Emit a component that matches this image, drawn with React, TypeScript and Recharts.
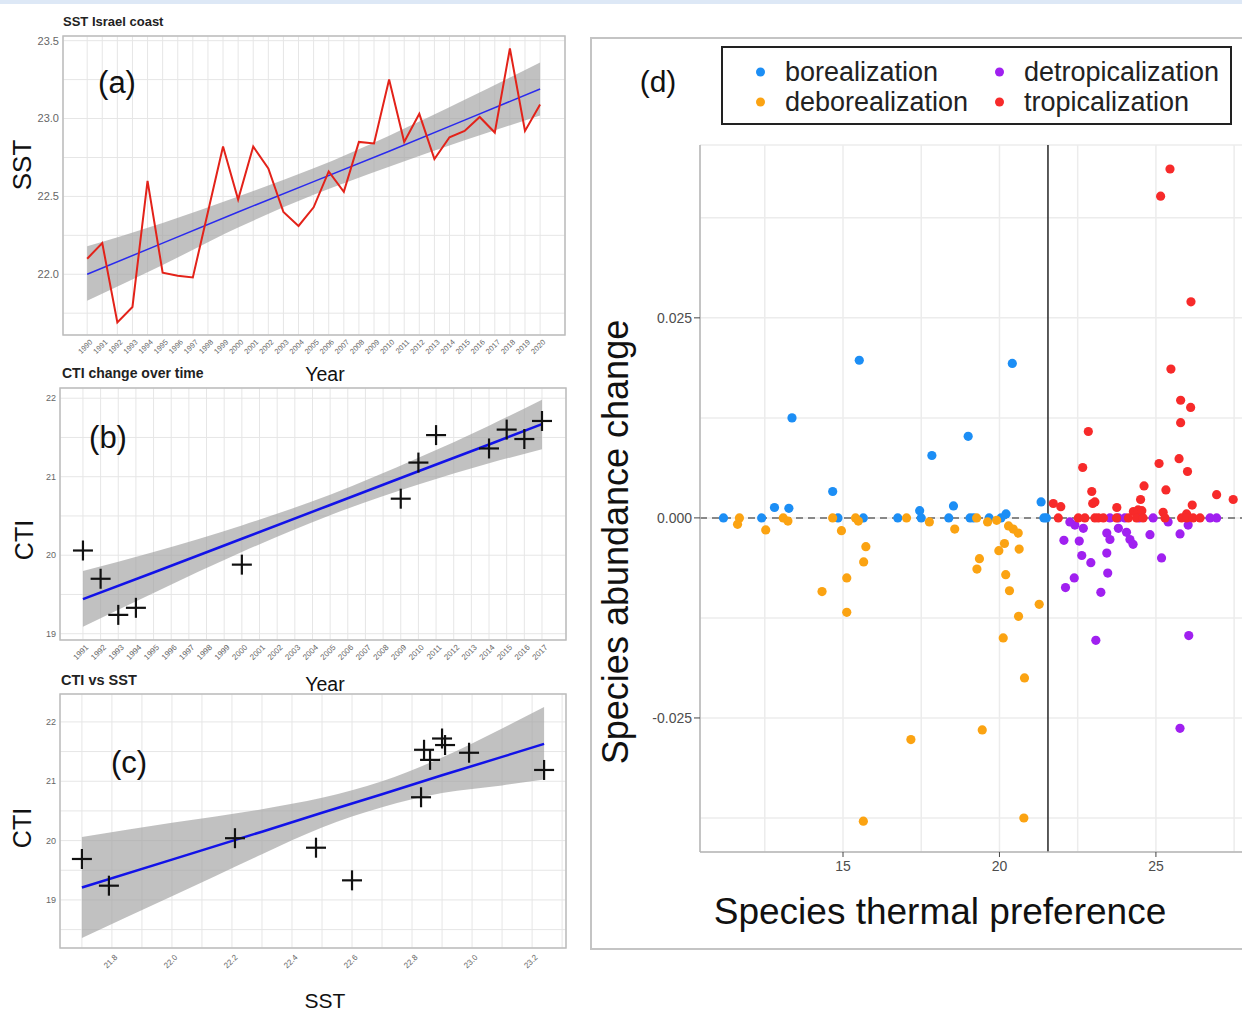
import React from 'react';
import {
  ComposedChart, Scatter, Line, Area, XAxis, YAxis, CartesianGrid,
  ReferenceLine, ReferenceArea, Legend,
} from 'recharts';

const FONT = '"Liberation Sans", Arial, Helvetica, sans-serif';

// ---- (a) SST Israel coast ----
const sstYears = [
  1990, 1991, 1992, 1993, 1994, 1995, 1996, 1997, 1998, 1999, 2000,
  2001, 2002, 2003, 2004, 2005, 2006, 2007, 2008, 2009, 2010,
  2011, 2012, 2013, 2014, 2015, 2016, 2017, 2018, 2019, 2020,
];
const sstValues = [
  22.10, 22.20, 21.69, 21.79, 22.60, 22.01, 21.99, 21.98, 22.40, 22.82, 22.48,
  22.82, 22.68, 22.40, 22.31, 22.43, 22.66, 22.53, 22.85, 22.84, 23.25,
  22.85, 23.03, 22.74, 22.88, 22.92, 23.01, 22.91, 23.45, 22.92, 23.09,
];
const sstBandX = [1990, 1995, 2000, 2005, 2010, 2015, 2020];
const sstBandLow = [21.83, 22.06, 22.30, 22.51, 22.69, 22.86, 23.02];
const sstBandHigh = [22.18, 22.33, 22.50, 22.68, 22.89, 23.12, 23.36];
const sstFit = [22.00, 22.20, 22.40, 22.595, 22.79, 22.99, 23.19];
const sstYTicks = [21.75, 22, 22.25, 22.5, 22.75, 23, 23.25, 23.5];
const sstYLabels = [22, 22.5, 23, 23.5];

// ---- (b) CTI change over time ----
const ctiYears = [1991, 1992, 1993, 1994, 2000, 2009, 2010, 2011, 2014, 2015, 2016, 2017];
const ctiValues = [20.06, 19.70, 19.24, 19.33, 19.88, 20.72, 21.18, 21.53, 21.36, 21.60, 21.48, 21.71];
const ctiBandX = [1991, 1995, 2000, 2005, 2010, 2014, 2017];
const ctiBandLow = [19.09, 19.52, 20.04, 20.51, 20.90, 21.17, 21.35];
const ctiBandHigh = [19.80, 20.04, 20.38, 20.77, 21.24, 21.65, 21.98];
const ctiFit = [19.44, 19.78, 20.21, 20.64, 21.07, 21.41, 21.67];
const ctiXTicks = [
  1991, 1992, 1993, 1994, 1995, 1996, 1997, 1998, 1999, 2000, 2001, 2002, 2003, 2004,
  2005, 2006, 2007, 2008, 2009, 2010, 2011, 2012, 2013, 2014, 2015, 2016, 2017,
];
const ctiYTicks = [19, 19.5, 20, 20.5, 21, 21.5, 22];
const ctiYLabels = [19, 20, 21, 22];

// ---- (c) CTI vs SST ----
const vsSst = [21.70, 21.79, 22.21, 22.48, 22.60, 22.83, 22.84, 22.86, 22.90, 22.91, 22.99, 23.24];
const vsCti = [19.69, 19.24, 20.04, 19.88, 19.33, 20.73, 21.53, 21.36, 21.72, 21.61, 21.48, 21.19];
const vsBandX = [21.70, 22.0, 22.3, 22.5, 22.7, 22.9, 23.1, 23.24];
const vsBandLow = [18.36, 19.06, 19.77, 20.22, 20.56, 20.80, 20.93, 21.03];
const vsBandHigh = [20.06, 20.30, 20.53, 20.72, 21.00, 21.40, 21.89, 22.25];
const vsFit = [19.21, 19.68, 20.15, 20.47, 20.78, 21.10, 21.41, 21.63];
const vsXTicks = [21.7, 21.8, 21.9, 22.0, 22.1, 22.2, 22.3, 22.4, 22.5, 22.6, 22.7, 22.8, 22.9, 23.0, 23.1, 23.2, 23.3];
const vsXLabels = [21.8, 22.0, 22.2, 22.4, 22.6, 22.8, 23.0, 23.2];
const vsYTicks = [18.5, 19, 19.5, 20, 20.5, 21, 21.5, 22];
const vsYLabels = [19, 20, 21, 22];

// ---- (d) species thermal preference vs abundance change ----
const categories = ['borealization', 'deborealization', 'detropicalization', 'tropicalization'];
const categoryColors = ['#1c8ef5', '#fba312', '#a020f0', '#f72a2a'];

const borealization = [
  [11.18, 0], [12.40, 0], [12.81, 0.0013], [13.27, 0.0012], [13.37, 0.0125], [14.67, 0.0033],
  [14.84, 0], [15.52, 0.0197], [15.65, 0], [16.75, 0], [17.45, 0.0009], [17.50, 0],
  [17.84, 0.0078], [18.38, 0], [18.53, 0.0015], [19.00, 0.0102], [19.06, 0], [19.17, 0],
  [19.67, 0], [20.05, 0], [20.21, 0.0005], [20.41, 0.0193], [21.33, 0.0020], [21.42, 0], [21.50, 0],
];
const deborealization = [
  [11.69, 0], [11.63, -0.0008], [12.53, -0.0015], [13.09, 0], [13.24, -0.0004], [14.67, 0],
  [14.95, -0.0016], [15.40, 0], [15.49, -0.0004], [15.73, -0.0036], [15.66, -0.0055],
  [15.12, -0.0075], [14.33, -0.0092], [15.12, -0.0118], [17.03, 0], [17.76, -0.0005],
  [18.57, -0.0014], [19.27, 0], [19.28, -0.0064], [19.36, -0.0051], [19.62, -0.0005],
  [19.91, -0.0003], [19.98, -0.0041], [20.16, -0.0032], [20.29, -0.0010], [20.44, -0.0014],
  [20.60, -0.0019], [20.63, -0.0039], [20.20, -0.0071], [20.32, -0.0091], [21.27, -0.0108],
  [20.61, -0.0123], [20.12, -0.0150], [20.80, -0.0200], [19.45, -0.0265], [17.17, -0.0277],
  [15.65, -0.0379], [20.78, -0.0375],
];
const detropicalization = [
  [22.25, -0.0005], [22.41, -0.0009], [22.68, -0.0013], [22.06, -0.0028], [22.55, -0.0029],
  [22.63, -0.0047], [22.92, -0.0056], [23.43, -0.0019], [23.53, -0.0027], [23.80, -0.0013],
  [24.06, -0.0018], [24.17, -0.0027], [24.27, -0.0033], [23.43, -0.0044], [24.81, -0.0021],
  [25.18, -0.0050], [25.39, -0.0005], [25.77, -0.0020], [26.03, -0.0009], [23.53, 0],
  [23.80, 0], [24.01, 0], [24.47, 0], [24.91, 0], [26.73, 0], [26.94, 0], [22.11, -0.0087],
  [22.39, -0.0075], [23.46, -0.0069], [23.24, -0.0093], [23.08, -0.0153], [26.05, -0.0147],
  [25.77, -0.0263],
];
const tropicalization = [
  [25.45, 0.0436], [25.15, 0.0402], [26.12, 0.0270], [25.48, 0.0186], [25.79, 0.0147],
  [26.11, 0.0138], [25.79, 0.0119], [22.84, 0.0108], [22.66, 0.0063], [25.10, 0.0068],
  [25.74, 0.0074], [26.01, 0.0058], [22.95, 0.0033], [24.62, 0.0040], [25.32, 0.0035],
  [26.94, 0.0029], [27.47, 0.0023], [21.72, 0.0018], [21.96, 0.0014], [22.98, 0.0018],
  [23.05, 0.0020], [24.51, 0.0023], [26.16, 0.0016], [23.75, 0.0013], [24.28, 0.0008],
  [24.43, 0.0010], [24.55, 0.0009], [25.23, 0.0007], [25.98, 0.0005], [21.88, 0], [22.52, 0],
  [22.73, 0], [23.05, 0], [23.16, 0], [23.32, 0], [23.74, 0], [24.12, 0], [24.38, 0],
  [24.59, 0], [25.29, 0], [25.82, 0], [25.98, 0], [26.19, 0], [26.41, 0],
];
const categoryPoints = [borealization, deborealization, detropicalization, tropicalization];
const thermalBreak = 21.55;
const dXTicks = [12.5, 15, 17.5, 20, 22.5, 25, 27.5];
const dXLabels = [15, 20, 25];
const dYTicks = [-0.0375, -0.025, -0.0125, 0, 0.0125, 0.025, 0.0375];
const dYLabels = [-0.025, 0, 0.025];

// tables for the library
const aBand = sstBandX.map((x, i) => ({ x, band: [sstBandLow[i], sstBandHigh[i]], fit: sstFit[i] }));
const aLine = sstYears.map((x, i) => ({ x, y: sstValues[i] }));
const bBand = ctiBandX.map((x, i) => ({ x, band: [ctiBandLow[i], ctiBandHigh[i]], fit: ctiFit[i] }));
const bPts = ctiYears.map((x, i) => ({ x, y: ctiValues[i] }));
const cBand = vsBandX.map((x, i) => ({ x, band: [vsBandLow[i], vsBandHigh[i]], fit: vsFit[i] }));
const cPts = vsSst.map((x, i) => ({ x, y: vsCti[i] }));

const BAND_FILL = '#a0a0a0';
const GRID = '#e6e6e6';
const TICK = '#666';

const NoShape = () => <g />;

const Cross = (p: any) => (
  <g>
    <line x1={p.cx - 10} x2={p.cx + 10} y1={p.cy} y2={p.cy} stroke="#111" strokeWidth={2.2} />
    <line x1={p.cx} x2={p.cx} y1={p.cy - 10} y2={p.cy + 10} stroke="#111" strokeWidth={2.2} />
  </g>
);

const RotTick = (p: any) => {
  const v = p.payload.value;
  if (p.show && !p.show.includes(v)) return <g />;
  return (
    <text x={p.x} y={p.y} dx={3} dy={p.size * 0.7} textAnchor="end" fontSize={p.size}
      fill={TICK} fontFamily={FONT} transform={`rotate(-45 ${p.x} ${p.y})`}>
      {p.fmt ? p.fmt(v) : v}
    </text>
  );
};

const LeftTick = (p: any) => {
  const v = p.payload.value;
  if (!p.show.includes(v)) return <g />;
  return (
    <text x={p.x} y={p.y} dy={p.size * 0.35} textAnchor="end" fontSize={p.size}
      fill={TICK} fontFamily={FONT}>
      {p.fmt(v)}
    </text>
  );
};

const DYTick = (p: any) => {
  const v = p.payload.value;
  if (!dYLabels.includes(v)) return <g />;
  return (
    <g>
      <line x1={p.x + 2} x2={p.x + 8} y1={p.y} y2={p.y} stroke="#444" strokeWidth={1} />
      <text x={p.x} y={p.y} dy={5} textAnchor="end" fontSize={14} fill="#4d4d4d" fontFamily={FONT}>
        {v.toFixed(3)}
      </text>
    </g>
  );
};

const DXTick = (p: any) => {
  const v = p.payload.value;
  if (!dXLabels.includes(v)) return <g />;
  return (
    <g>
      <line x1={p.x} x2={p.x} y1={p.y - 8} y2={p.y - 3} stroke="#444" strokeWidth={1} />
      <text x={p.x} y={p.y} dy={11} textAnchor="middle" fontSize={14} fill="#4d4d4d" fontFamily={FONT}>
        {v}
      </text>
    </g>
  );
};

const Txt = ({ x, y, size, bold, rotate, start, children }: any) => (
  <div
    style={{
      position: 'absolute', left: x, top: y, fontSize: size, lineHeight: 1,
      fontWeight: bold ? 700 : 400, whiteSpace: 'nowrap', color: bold ? '#222' : '#111',
      transform: `translate(${start ? '0' : '-50%'}, -50%)${rotate ? ' rotate(-90deg)' : ''}`,
    }}
  >
    {children}
  </div>
);

const DotLegend = () => (
  <div
    style={{
      position: 'relative', width: 511, height: 79, border: '2px solid #222',
      boxSizing: 'border-box', background: '#fff', fontFamily: FONT,
    }}
  >
    {categories.map((c, i) => {
      const col = Math.floor(i / 2);
      const row = i % 2;
      const left = col === 0 ? 33 : 272;
      return (
        <div key={c} style={{ position: 'absolute', left, top: row === 0 ? 24 : 54, display: 'flex', alignItems: 'center', transform: 'translateY(-50%)' }}>
          <span style={{ width: 9, height: 9, borderRadius: '50%', background: categoryColors[i], display: 'inline-block' }} />
          <span style={{ fontSize: 27, color: '#222', marginLeft: 20, lineHeight: 1 }}>{c}</span>
        </div>
      );
    })}
  </div>
);

export default function App() {
  return (
    <div style={{ position: 'absolute', left: 0, top: 0, width: 1242, height: 1010, overflow: 'hidden', background: '#fff', fontFamily: FONT }}>
      <div style={{ position: 'absolute', left: 0, top: 0, width: 1242, height: 4, background: '#dde8f6' }} />

      {/* (a) */}
      <div style={{ position: 'absolute', left: 0, top: 10 }}>
        <ComposedChart width={575} height={380} data={aBand} margin={{ top: 26, right: 10, left: 0, bottom: 0 }}>
          <CartesianGrid stroke={GRID} />
          <XAxis dataKey="x" type="number" domain={[1988.4, 2021.65]} allowDataOverflow ticks={sstYears}
            interval={0} height={55} axisLine={false} tickLine={false} tickSize={4} tickMargin={2}
            tick={(p: any) => <RotTick {...p} size={7.5} />} />
          <YAxis type="number" domain={[21.61, 23.53]} allowDataOverflow ticks={sstYTicks} interval={0}
            width={63} axisLine={false} tickLine={false} tickSize={2} tickMargin={2}
            tick={(p: any) => <LeftTick {...p} size={11} show={sstYLabels} fmt={(v: number) => v.toFixed(1)} />} />
          <ReferenceArea x1={1988.4} x2={2021.65} y1={21.61} y2={23.53} fill="none" stroke="#bdbdbd" strokeWidth={1.5} />
          <Area dataKey="band" type="monotone" stroke="none" fill={BAND_FILL} fillOpacity={0.65} isAnimationActive={false} />
          <Scatter data={aLine} dataKey="y" line={{ stroke: '#e32219', strokeWidth: 2 }} lineType="joint"
            shape={NoShape} isAnimationActive={false} />
          <Line dataKey="fit" type="linear" stroke="#2a2aee" strokeWidth={1.5} dot={false} isAnimationActive={false} />
        </ComposedChart>
      </div>

      {/* (b) */}
      <div style={{ position: 'absolute', left: 0, top: 378 }}>
        <ComposedChart width={576} height={322} data={bBand} margin={{ top: 10, right: 10, left: 0, bottom: 0 }}>
          <CartesianGrid stroke={GRID} />
          <XAxis dataKey="x" type="number" domain={[1989.7, 2018.36]} allowDataOverflow ticks={ctiXTicks}
            interval={0} height={60} axisLine={false} tickLine={false} tickSize={4} tickMargin={2}
            tick={(p: any) => <RotTick {...p} size={8} />} />
          <YAxis type="number" domain={[18.92, 22.13]} allowDataOverflow ticks={ctiYTicks} interval={0}
            width={60} axisLine={false} tickLine={false} tickSize={2} tickMargin={2}
            tick={(p: any) => <LeftTick {...p} size={9} show={ctiYLabels} fmt={(v: number) => String(v)} />} />
          <ReferenceArea x1={1989.7} x2={2018.36} y1={18.92} y2={22.13} fill="none" stroke="#bdbdbd" strokeWidth={1.5} />
          <Area dataKey="band" type="monotone" stroke="none" fill={BAND_FILL} fillOpacity={0.65} isAnimationActive={false} />
          <Line dataKey="fit" type="linear" stroke="#1212e8" strokeWidth={2.5} dot={false} isAnimationActive={false} />
          <Scatter data={bPts} dataKey="y" shape={Cross} isAnimationActive={false} />
        </ComposedChart>
      </div>

      {/* (c) */}
      <div style={{ position: 'absolute', left: 0, top: 684 }}>
        <ComposedChart width={576} height={326} data={cBand} margin={{ top: 10, right: 10, left: 0, bottom: 0 }}>
          <CartesianGrid stroke={GRID} />
          <XAxis dataKey="x" type="number" domain={[21.627, 23.313]} allowDataOverflow ticks={vsXTicks}
            interval={0} height={62} axisLine={false} tickLine={false} tickSize={4} tickMargin={4}
            tick={(p: any) => <RotTick {...p} size={8} show={vsXLabels} fmt={(v: number) => v.toFixed(1)} />} />
          <YAxis type="number" domain={[18.19, 22.47]} allowDataOverflow ticks={vsYTicks} interval={0}
            width={60} axisLine={false} tickLine={false} tickSize={2} tickMargin={2}
            tick={(p: any) => <LeftTick {...p} size={9} show={vsYLabels} fmt={(v: number) => String(v)} />} />
          <ReferenceArea x1={21.627} x2={23.313} y1={18.19} y2={22.47} fill="none" stroke="#bdbdbd" strokeWidth={1.5} />
          <Area dataKey="band" type="monotone" stroke="none" fill={BAND_FILL} fillOpacity={0.65} isAnimationActive={false} />
          <Line dataKey="fit" type="linear" stroke="#1212e8" strokeWidth={2.5} dot={false} isAnimationActive={false} />
          <Scatter data={cPts} dataKey="y" shape={Cross} isAnimationActive={false} />
        </ComposedChart>
      </div>

      {/* (d) */}
      <div style={{ position: 'absolute', left: 590, top: 37, width: 700, height: 913, border: '2px solid #c4c4c4', boxSizing: 'border-box' }} />
      <div style={{ position: 'absolute', left: 590, top: 37 }}>
        <ComposedChart width={700} height={913} margin={{ top: 108, right: 28, left: 0, bottom: 0 }}>
          <CartesianGrid stroke="#ececec" strokeWidth={1.5} />
          <XAxis dataKey="x" type="number" domain={[10.43, 28.39]} allowDataOverflow ticks={dXTicks}
            interval={0} height={98} axisLine={{ stroke: '#b5b5b5', strokeWidth: 1.5 }} tickLine={false}
            tickSize={6} tickMargin={2} tick={DXTick} />
          <YAxis type="number" domain={[-0.04175, 0.0466]} allowDataOverflow ticks={dYTicks} interval={0}
            width={110} axisLine={{ stroke: '#b5b5b5', strokeWidth: 1.5 }} tickLine={false}
            tickSize={6} tickMargin={2} tick={DYTick} />
          <ReferenceLine y={0} stroke="#666" strokeWidth={1.5} strokeDasharray="7 5" />
          <ReferenceLine x={thermalBreak} stroke="#333" strokeWidth={1.6} />
          {categories.map((c, i) => (
            <Scatter
              key={c}
              name={c}
              data={categoryPoints[i].map(([x, y]) => ({ x, y }))}
              dataKey="y"
              shape={(p: any) => <circle cx={p.cx} cy={p.cy} r={4.6} fill={categoryColors[i]} />}
              isAnimationActive={false}
            />
          ))}
          <Legend layout="vertical" align="center" verticalAlign="middle" content={DotLegend}
            wrapperStyle={{ position: 'absolute', left: 131, top: 9, width: 511, height: 79 }} />
        </ComposedChart>
      </div>

      {/* titles and axis labels */}
      <Txt x={63} y={21} size={13} bold start>SST Israel coast</Txt>
      <Txt x={62} y={373} size={14} bold start>CTI change over time</Txt>
      <Txt x={61} y={680} size={14.5} bold start>CTI vs SST</Txt>
      <Txt x={117} y={82} size={31}>(a)</Txt>
      <Txt x={108} y={437} size={31}>(b)</Txt>
      <Txt x={129} y={762} size={31}>(c)</Txt>
      <Txt x={658} y={82} size={30}>(d)</Txt>
      <Txt x={22} y={165} size={26} rotate>SST</Txt>
      <Txt x={24} y={540} size={25} rotate>CTI</Txt>
      <Txt x={22} y={828} size={25} rotate>CTI</Txt>
      <Txt x={325} y={375} size={19.5}>Year</Txt>
      <Txt x={325} y={685} size={19.5}>Year</Txt>
      <Txt x={325} y={1000} size={21}>SST</Txt>
      <Txt x={616} y={542} size={36} rotate>Species abundance change</Txt>
      <Txt x={940} y={911} size={37}>Species thermal preference</Txt>
    </div>
  );
}
